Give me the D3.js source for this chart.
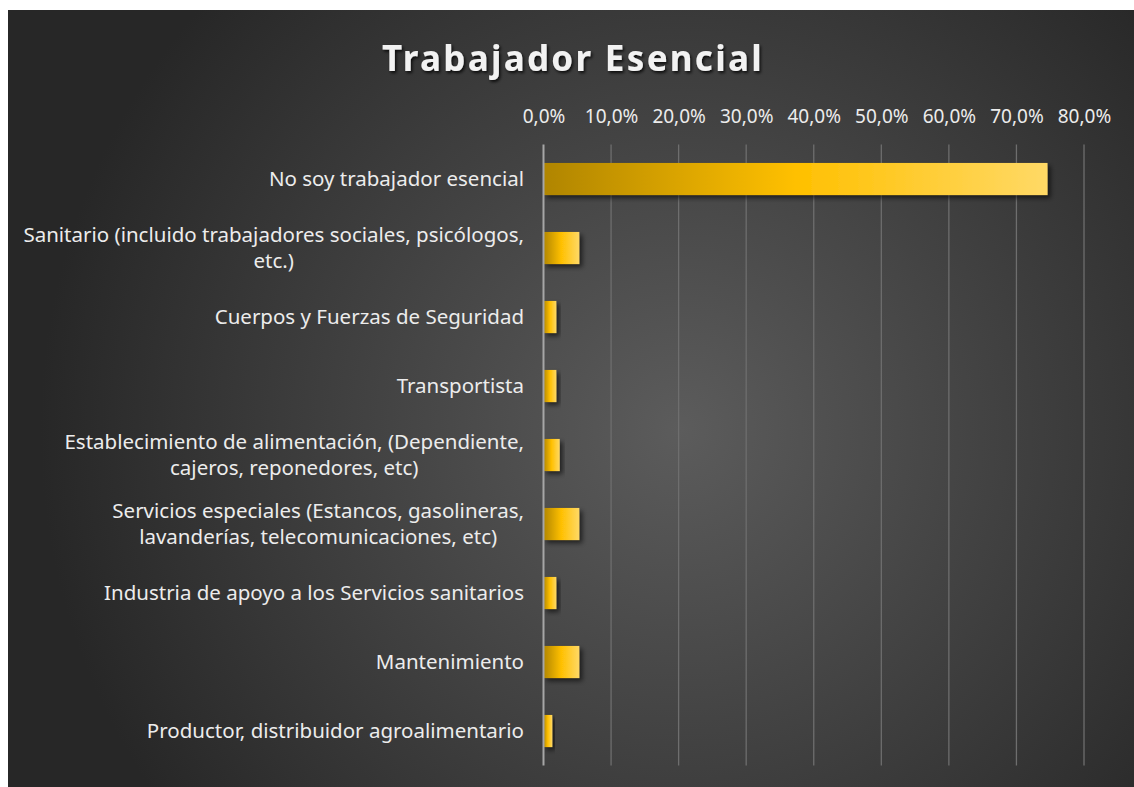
<!DOCTYPE html>
<html><head><meta charset="utf-8">
<script src="https://cdn.jsdelivr.net/npm/d3@7"></script>
<style>html,body{margin:0;padding:0;background:#fff;overflow:hidden}</style>
</head><body>
<svg id="c" width="1134" height="787"></svg>
<script>
const title = "Trabajador Esencial";
const categories = [
  "No soy trabajador esencial",
  "Sanitario (incluido trabajadores sociales, psicólogos,\netc.)",
  "Cuerpos y Fuerzas de Seguridad",
  "Transportista",
  "Establecimiento de alimentación, (Dependiente,\ncajeros, reponedores, etc)",
  "Servicios especiales (Estancos, gasolineras,\nlavanderías, telecomunicaciones, etc)",
  "Industria de apoyo a los Servicios sanitarios",
  "Mantenimiento",
  "Productor, distribuidor agroalimentario"
];
const values = [0.746, 0.053, 0.019, 0.019, 0.024, 0.053, 0.019, 0.053, 0.013];
const ticks = [0, 0.1, 0.2, 0.3, 0.4, 0.5, 0.6, 0.7, 0.8];

const svg = d3.select("#c");
const W = 1134, H = 787;
const defs = svg.append("defs");
const rg = defs.append("radialGradient").attr("id","bg").attr("gradientUnits","userSpaceOnUse")
  .attr("cx",680).attr("cy",430).attr("r",640);
rg.append("stop").attr("offset","0").attr("stop-color","#5c5c5c");
rg.append("stop").attr("offset","1").attr("stop-color","#272727");
const bg = defs.append("linearGradient").attr("id","bar").attr("x1","0").attr("x2","1").attr("y1","0").attr("y2","0");
bg.append("stop").attr("offset","0").attr("stop-color","#b08500");
bg.append("stop").attr("offset","0.5").attr("stop-color","#ffc000");
bg.append("stop").attr("offset","1").attr("stop-color","#ffd966");
const sh = defs.append("filter").attr("id","sh").attr("x","-20%").attr("y","-30%").attr("width","150%").attr("height","180%");
sh.append("feDropShadow").attr("dx",3).attr("dy",3).attr("stdDeviation",2.5).attr("flood-color","#000").attr("flood-opacity",0.6);
const tsh = defs.append("filter").attr("id","tsh");
tsh.append("feDropShadow").attr("dx",1.5).attr("dy",2).attr("stdDeviation",1.5).attr("flood-color","#000").attr("flood-opacity",0.8);

svg.append("rect").attr("x",8).attr("y",10).attr("width",W-8).attr("height",H-10).attr("fill","url(#bg)");

const font = "'Noto Sans', sans-serif";
svg.append("text").attr("x",573).attr("y",71).attr("text-anchor","middle")
  .attr("font-family",font).attr("font-weight","bold").attr("font-size",35).attr("letter-spacing",2.3)
  .attr("fill","#f2f2f2").attr("filter","url(#tsh)").text(title);

const x = d3.scaleLinear().domain([0,0.8]).range([543.5, 1084]);
const y = d3.scaleBand().domain(categories).range([144.5, 765.5]).paddingInner(0.535).paddingOuter(0.2675);

// gridlines
svg.append("g").selectAll("line").data(ticks.slice(1)).join("line")
  .attr("x1",d=>x(d)).attr("x2",d=>x(d)).attr("y1",144.5).attr("y2",765.5)
  .attr("stroke","#6e6e6e").attr("stroke-width",1.3);

// top axis
const fmt = d => d3.format(".1f")(d*100).replace(".",",") + "%";
const ax = svg.append("g").attr("transform","translate(0,116)")
  .call(d3.axisTop(x).tickValues(ticks).tickFormat(fmt).tickSize(0).tickPadding(0));
ax.select(".domain").remove();
ax.selectAll("text").attr("font-family",font).attr("font-size",19).attr("fill","#ececec").attr("dy","0.35em");

// bars
svg.append("g").selectAll("rect").data(values).join("rect")
  .attr("x",x(0)).attr("y",(d,i)=>y(categories[i]))
  .attr("width",d=>x(d)-x(0)).attr("height",y.bandwidth())
  .attr("fill","url(#bar)").attr("filter","url(#sh)");

// zero axis line
svg.append("line").attr("x1",x(0)).attr("x2",x(0)).attr("y1",144.5).attr("y2",765.5)
  .attr("stroke","#a6a6a6").attr("stroke-width",2);

// labels (block right-aligned, lines centred within block)
const lg = svg.append("g");
const right = 524, lh = 26;
categories.forEach((c,i)=>{
  const lines = c.split("\n");
  const cy = y(c) + y.bandwidth()/2;
  const nodes = lines.map((l,j)=> lg.append("text")
      .attr("y",cy + (j-(lines.length-1)/2)*lh).attr("dy","0.35em")
      .attr("font-family",font).attr("font-size",20.5).attr("fill","#ececec").text(l));
  const widths = nodes.map(n=>n.node().getComputedTextLength());
  const maxW = Math.max(...widths);
  const center = right - maxW/2;
  nodes.forEach(n=> n.attr("x",center).attr("text-anchor","middle"));
});
</script>
</body></html>
